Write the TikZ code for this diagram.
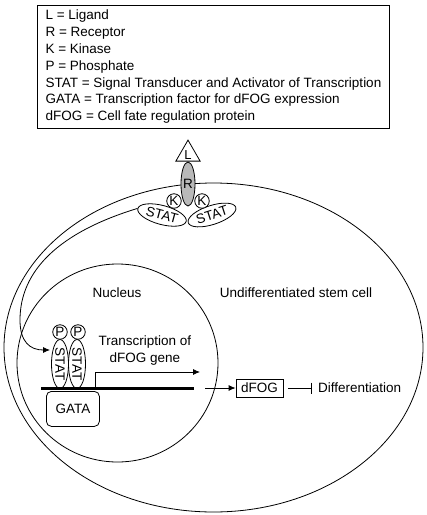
\documentclass[tikz,border=0pt]{standalone}
\usepackage{fontspec}
\setmainfont{Liberation Sans}
\usetikzlibrary{shapes.geometric,arrows.meta}
\begin{document}
\begin{tikzpicture}[x=1pt,y=-1pt,
  every node/.style={font=\fontsize{13.5}{16.8}\selectfont},
  line/.style={draw=black, line width=0.8pt},
  arr/.style={line, -{Latex[length=7pt,width=6pt]}},
  statbox/.style={line, ellipse, inner sep=0pt, minimum width=50pt, minimum height=19pt, fill=white},
  smallcirc/.style={line, circle, inner sep=0pt, minimum size=14.5pt, fill=white, font=\fontsize{13.5}{14}\selectfont},
  lbl/.style={inner sep=0pt}
]
\useasboundingbox (0,0) rectangle (427,515);
% legend
\node[line, rectangle, anchor=north west, minimum width=352pt, minimum height=123pt,
      inner xsep=4pt, align=left] (legend) at (37,5)
  {L = Ligand\\R = Receptor\\K = Kinase\\P = Phosphate\\STAT = Signal Transducer and Activator of Transcription\\GATA = Transcription factor for dFOG expression\\dFOG = Cell fate regulation protein};
% cell and nucleus
\node[line, ellipse, minimum width=419pt, minimum height=329pt, inner sep=0pt] (cell) at (213.5,347.5) {};
\node[line, ellipse, minimum width=201pt, minimum height=198pt, inner sep=0pt] (nucleus) at (117.5,363) {};
\node[lbl] (nuclbl) at (117,293) {Nucleus};
\node[lbl] (celllbl) at (296,293) {Undifferentiated stem cell};
% receptor complex
\node[statbox, rotate=-15] (S1) at (162,215) {STAT};
\node[statbox, rotate=18] (S2) at (212,215) {STAT};
\node[smallcirc] (K1) at (174,201) {K};
\node[smallcirc] (K2) at (202,201) {K};
\node[line, ellipse, fill=gray!55, minimum width=14pt, minimum height=44pt, inner sep=0pt, font=\fontsize{13.5}{14}\selectfont] (R) at (188,184) {R};
\node[line, isosceles triangle, shape border rotate=90, isosceles triangle apex angle=60, inner sep=0.3pt, minimum height=21pt, fill=white, anchor=south, font=\fontsize{13}{14}\selectfont] (L) at (188,161.5) {L};
% nuclear STAT dimer
\node[statbox, rotate=-90, minimum width=49pt, minimum height=17pt] (N1) at (60,364) {STAT};
\node[statbox, rotate=-90, minimum width=49pt, minimum height=17pt] (N2) at (77,364) {STAT};
\node[smallcirc] (P1) at (60,332) {P};
\node[smallcirc] (P2) at (78,332) {P};
% translocation arrow
\coordinate (arrtip) at (50,350);
\draw[arr] (S1.west) .. controls (60,232) and (20,270) .. (20,320) .. controls (20,342) and (30,350) .. (arrtip);
% DNA and GATA
\coordinate (dnaL) at (41,388);
\coordinate (dnaR) at (194,388);
\draw[line width=3pt] (dnaL) -- (dnaR);
\node[line, rectangle, rounded corners=5pt, minimum width=53pt, minimum height=35pt, anchor=north west, fill=white] (GATA) at (46,391) {GATA};
\coordinate (tss) at (95,387);
\coordinate (tsend) at (200,372);
\draw[arr] (tss) |- (tsend);
\node[lbl, align=center] (trlbl) at (145,350.5) {Transcription of\\dFOG gene};
% dFOG and differentiation
\node[line, rectangle, minimum width=47pt, minimum height=18pt, inner sep=0pt] (dFOG) at (259.5,388) {dFOG};
\coordinate (arrstart) at (205,388);
\draw[arr] (arrstart) -- (dFOG.west);
\node[lbl, anchor=west] (diff) at (318,388) {Differentiation};
\draw[line, -{Bar[width=11pt]}] (dFOG.east) ++(5,0) -- ([xshift=-6pt]diff.west);
\end{tikzpicture}
\end{document}
